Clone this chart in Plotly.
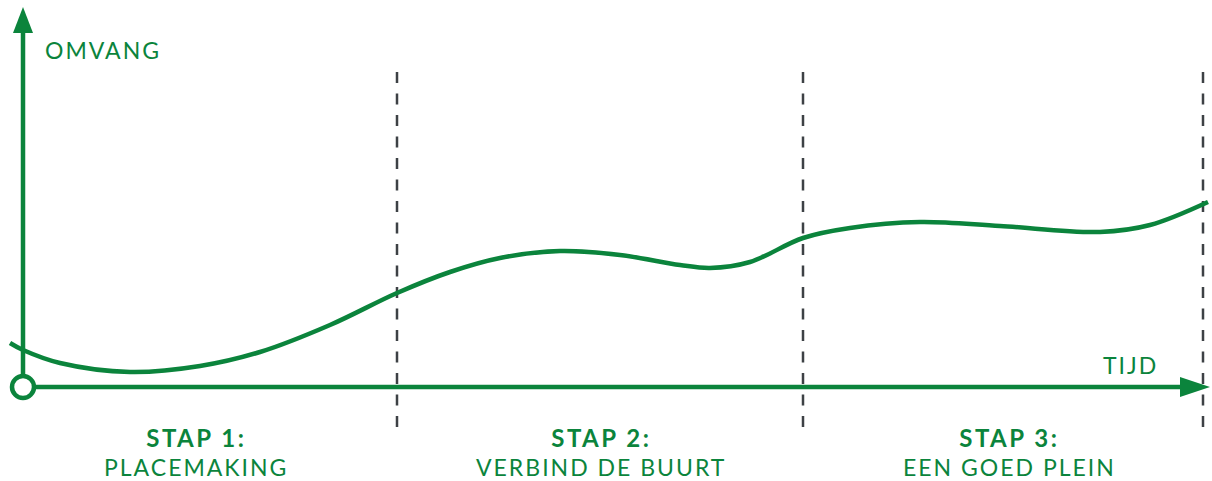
import plotly.graph_objects as go

GREEN = "#0b843c"
GREY = "#3d4145"

# curve (time vs. scope)
curve_x = [-13, 0, 37, 107, 177, 237, 307, 374, 427, 477, 537, 597, 657, 687, 727, 780, 827, 897, 977, 1077, 1127, 1185]
curve_y = [44, 37, 24, 15, 21, 35, 62, 94, 115, 129, 136, 132, 122, 119, 125, 149, 159, 165, 161, 155, 162, 185]

stage_bounds = [374, 780, 1180]
stage_centers = [173, 578, 986]
stage_titles = ["STAP 1:", "STAP 2:", "STAP 3:"]
stage_names = ["PLACEMAKING", "VERBIND DE BUURT", "EEN GOED PLEIN"]

fig = go.Figure()

fig.add_trace(go.Scatter(x=curve_x, y=curve_y, mode="lines",
                         line=dict(color=GREEN, width=4.5, shape="spline", smoothing=1.0),
                         hoverinfo="skip", showlegend=False))

shapes = []
# dashed stage boundaries
for b in stage_bounds:
    shapes.append(dict(type="line", x0=b, x1=b, y0=315, y1=-40, xref="x", yref="y",
                       line=dict(color=GREY, width=2.5, dash="11px,10.5px"), layer="below"))
# axes
shapes.append(dict(type="line", x0=0, x1=0, y0=0, y1=360, line=dict(color=GREEN, width=4.5)))
shapes.append(dict(type="line", x0=0, x1=1165, y0=0, y1=0, line=dict(color=GREEN, width=4.5)))
# arrowheads
shapes.append(dict(type="path", path="M -10,354 L 10,354 L 0,380 Z", fillcolor=GREEN, line=dict(width=0)))
shapes.append(dict(type="path", path="M 1157,10 L 1157,-10 L 1187,0 Z", fillcolor=GREEN, line=dict(width=0)))
# origin circle
shapes.append(dict(type="circle", x0=-11, x1=11, y0=-11, y1=11, fillcolor="white",
                   line=dict(color=GREEN, width=4.5)))

FS = 23
annotations = [
    dict(x=80, y=337, text="OMVANG", showarrow=False, xanchor="center", yanchor="middle",
         font=dict(family="Lato", size=FS, color=GREEN)),
    dict(x=1107, y=22, text="TIJD", showarrow=False, xanchor="center", yanchor="middle",
         font=dict(family="Lato", size=FS, color=GREEN)),
]
for c, t, n in zip(stage_centers, stage_titles, stage_names):
    annotations.append(dict(x=c, y=-50, text="<b>" + t + "</b>", showarrow=False,
                            xanchor="center", yanchor="middle",
                            font=dict(family="Lato", size=FS + 1, color=GREEN)))
    annotations.append(dict(x=c, y=-80, text=n, showarrow=False,
                            xanchor="center", yanchor="middle",
                            font=dict(family="Lato", size=FS, color=GREEN)))

fig.update_layout(
    width=1212, height=481,
    margin=dict(l=0, r=0, t=0, b=0),
    paper_bgcolor="white", plot_bgcolor="white",
    xaxis=dict(range=[-23, 1189], visible=False, fixedrange=True),
    yaxis=dict(range=[-94, 387], visible=False, fixedrange=True),
    shapes=shapes, annotations=annotations, showlegend=False,
)

post = (
    "document.body.style.margin='0';document.body.style.overflow='hidden';"
    "document.querySelectorAll('.annotation-text').forEach(function(e){"
    "var b=e.innerHTML.indexOf('<b')>=0||e.querySelector('tspan[style*=\"bold\"]');"
    "e.style.letterSpacing=b?'2.5px':'2px';});"
)

fig.write_html("out.html", config={"displayModeBar": False}, post_script=post)
